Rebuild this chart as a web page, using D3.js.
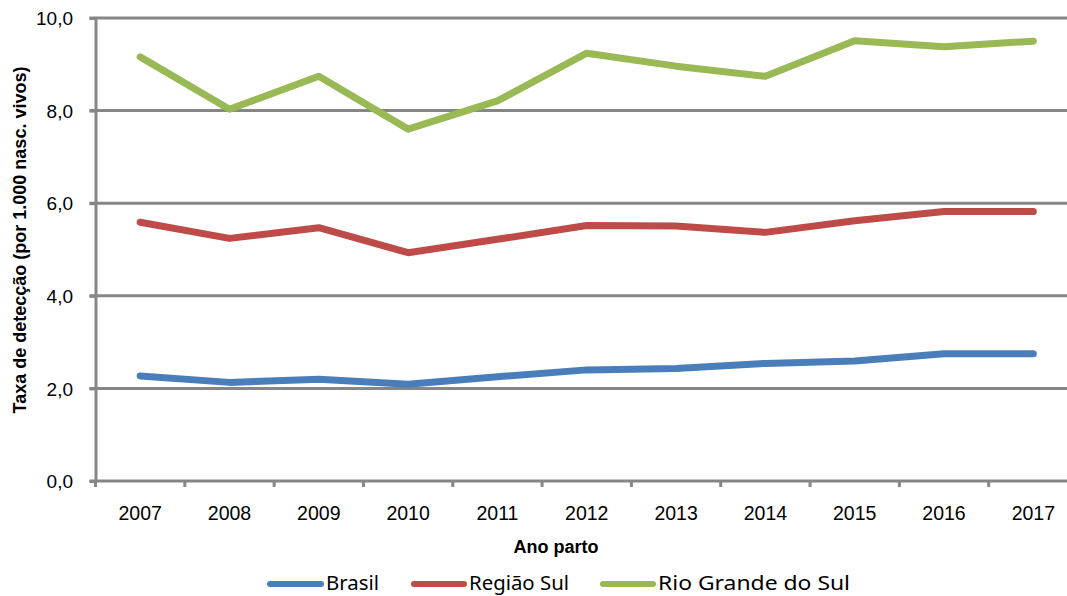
<!DOCTYPE html>
<html>
<head>
<meta charset="utf-8">
<script src="https://cdn.jsdelivr.net/npm/d3@7"></script>
<style>
  body { margin: 0; background: #fff; }
  svg { display: block; }
</style>
</head>
<body>
<div id="chart"></div>
<script>
// dados
const anos = ["2007","2008","2009","2010","2011","2012","2013","2014","2015","2016","2017"];
const brasil = [2.27, 2.13, 2.20, 2.09, 2.25, 2.40, 2.43, 2.54, 2.59, 2.75, 2.75];
const regiaoSul = [5.59, 5.24, 5.47, 4.93, 5.22, 5.52, 5.51, 5.37, 5.62, 5.82, 5.82];
const rioGrande = [9.16, 8.03, 8.74, 7.60, 8.21, 9.24, 8.96, 8.74, 9.51, 9.38, 9.50];
const yTicks = [0, 2, 4, 6, 8, 10];

const series = [
  { nome: "Brasil", valores: brasil, cor: "#4a7ebb" },
  { nome: "Região Sul", valores: regiaoSul, cor: "#be4b48" },
  { nome: "Rio Grande do Sul", valores: rioGrande, cor: "#98b954" }
];

const width = 1067, height = 596;
const plotLeft = 95.5, plotRight = 1078, plotTop = 18, plotBottom = 481;

const svg = d3.select("#chart").append("svg")
  .attr("width", width)
  .attr("height", height)
  .style("font-family", "'Liberation Sans', Arial, sans-serif");

const x = d3.scaleBand().domain(anos).range([plotLeft, plotRight]).padding(0);
const y = d3.scaleLinear().domain([0, 10]).range([plotBottom, plotTop]);
const fmt = d => d.toFixed(1).replace(".", ",");

// Linhas de grade
svg.append("g")
  .selectAll("line")
  .data(yTicks.filter(d => d > 0))
  .join("line")
  .attr("x1", plotLeft - 6).attr("x2", plotRight)
  .attr("y1", d => y(d)).attr("y2", d => y(d))
  .attr("stroke", "#868686")
  .attr("stroke-width", 3);

// Eixo Y
const yAxis = svg.append("g")
  .attr("transform", `translate(${plotLeft},0)`)
  .call(d3.axisLeft(y).tickValues(yTicks).tickFormat(fmt).tickSize(6).tickSizeOuter(0));
yAxis.select(".domain").attr("stroke", "#868686").attr("stroke-width", 3);
yAxis.selectAll(".tick line").attr("stroke", "#868686").attr("stroke-width", 3);
yAxis.selectAll(".tick text")
  .attr("x", -22.5)
  .attr("dy", "0.35em")
  .attr("fill", "#000")
  .style("font-size", "19px")
  .style("font-family", "'Liberation Sans', Arial, sans-serif");

// Eixo X
const xAxis = svg.append("g")
  .attr("transform", `translate(0,${plotBottom})`)
  .call(d3.axisBottom(x).tickSize(0).tickSizeOuter(0));
xAxis.select(".domain").attr("stroke", "#868686").attr("stroke-width", 3)
  .attr("d", `M${plotLeft - 6},0H${plotRight}`);
xAxis.selectAll(".tick text")
  .attr("y", 39)
  .attr("dy", 0)
  .attr("fill", "#000")
  .style("font-size", "19.5px")
  .style("font-family", "'Liberation Sans', Arial, sans-serif");
// marcas entre as categorias
xAxis.append("g")
  .selectAll("line")
  .data(anos)
  .join("line")
  .attr("x1", d => x(d)).attr("x2", d => x(d))
  .attr("y1", 0).attr("y2", 6)
  .attr("stroke", "#868686")
  .attr("stroke-width", 3);

// Títulos dos eixos
svg.append("text")
  .attr("transform", `translate(20,240) rotate(-90)`)
  .attr("text-anchor", "middle")
  .attr("dy", "0.35em")
  .style("font-size", "18px")
  .style("font-weight", "bold")
  .text("Taxa de detecção (por 1.000 nasc. vivos)");

svg.append("text")
  .attr("x", 556)
  .attr("y", 553)
  .attr("text-anchor", "middle")
  .style("font-size", "18px")
  .style("font-weight", "bold")
  .text("Ano parto");

// Séries
const line = d3.line()
  .x((d, i) => x(anos[i]) + x.bandwidth() / 2)
  .y(d => y(d));

svg.append("g")
  .selectAll("path")
  .data(series)
  .join("path")
  .attr("d", d => line(d.valores))
  .attr("fill", "none")
  .attr("stroke", d => d.cor)
  .attr("stroke-width", 7)
  .attr("stroke-linejoin", "round")
  .attr("stroke-linecap", "round");

// Legenda
const legenda = [
  { lx: 270, tx: 326, w: 53 },
  { lx: 414, tx: 469, w: 100 },
  { lx: 603, tx: 658, w: 192 }
];
const leg = svg.append("g")
  .selectAll("g")
  .data(series)
  .join("g");
leg.append("line")
  .attr("x1", (d, i) => legenda[i].lx)
  .attr("x2", (d, i) => legenda[i].tx - 5)
  .attr("y1", 584).attr("y2", 584)
  .attr("stroke", d => d.cor)
  .attr("stroke-width", 6)
  .attr("stroke-linecap", "round");
leg.append("text")
  .attr("x", (d, i) => legenda[i].tx)
  .attr("y", 590)
  .attr("textLength", (d, i) => legenda[i].w)
  .attr("lengthAdjust", "spacingAndGlyphs")
  .style("font-family", "'Noto Sans', sans-serif")
  .style("font-size", "20px")
  .text(d => d.nome);
</script>
</body>
</html>
